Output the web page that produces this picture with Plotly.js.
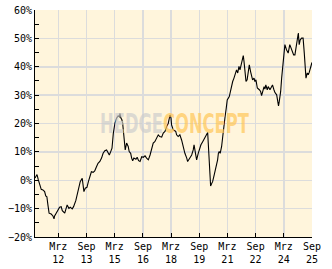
<!DOCTYPE html>
<html>
<head>
<meta charset="utf-8">
<script src="https://cdn.plot.ly/plotly-3.0.1.min.js"></script>
<style>html,body{margin:0;padding:0;background:#fff;}#chart{width:332px;height:269px;}</style>
</head>
<body>
<div id="chart"></div>
<script>
const dates = [
"2010-12-04","2011-01-12","2011-02-07","2011-03-15","2011-04-04","2011-05-07","2011-06-09","2011-07-01","2011-07-23","2011-08-12",
"2011-09-04","2011-10-15","2011-11-18","2011-12-09","2011-12-20","2012-01-20","2012-02-23","2012-03-26","2012-04-26","2012-05-18",
"2012-07-04","2012-08-04","2012-08-20","2012-09-23","2012-10-20","2012-11-26","2012-12-23","2013-02-04","2013-02-26","2013-04-07",
"2013-05-01","2013-06-09","2013-06-23","2013-07-12","2013-08-07","2013-09-09","2013-10-07","2013-11-04","2013-12-04","2014-01-07",
"2014-02-07","2014-03-09","2014-04-12","2014-05-18","2014-06-20","2014-07-20","2014-08-23","2014-09-26","2014-10-26","2014-11-18",
"2014-12-15","2015-01-09","2015-02-04","2015-03-07","2015-04-09","2015-05-09","2015-06-01","2015-06-12","2015-07-01","2015-07-20",
"2015-08-04","2015-08-15","2015-09-04","2015-09-23","2015-10-20","2015-11-20","2015-12-09","2016-01-07","2016-01-26","2016-02-15",
"2016-03-09","2016-04-18","2016-05-12","2016-06-09","2016-07-07","2016-08-09","2016-09-09","2016-10-12","2016-11-12","2016-12-15",
"2017-01-18","2017-02-18","2017-03-20","2017-04-20","2017-05-23","2017-06-26","2017-07-26","2017-09-01","2017-10-01","2017-11-04",
"2017-12-07","2018-01-07","2018-02-09","2018-03-01","2018-03-12","2018-04-12","2018-06-01","2018-06-18","2018-07-18","2018-08-20",
"2018-09-23","2018-10-23","2018-11-26","2019-01-01","2019-01-18","2019-02-15","2019-03-04","2019-04-07","2019-05-07","2019-05-23",
"2019-06-20","2019-07-12","2019-08-12","2019-09-01","2019-10-04","2019-11-07","2019-12-07","2020-01-04","2020-02-12","2020-02-23",
"2020-03-12","2020-03-26","2020-04-09","2020-05-01","2020-05-18","2020-06-18","2020-07-15","2020-08-04","2020-08-23","2020-09-07",
"2020-09-23","2020-10-12","2020-11-09","2020-12-01","2020-12-18","2021-01-15","2021-02-07","2021-02-26","2021-04-07","2021-05-04",
"2021-06-12","2021-07-07","2021-08-15","2021-08-26","2021-09-18","2021-10-12","2021-11-01","2021-11-20","2021-12-09","2022-01-04",
"2022-01-18","2022-02-07","2022-02-26","2022-03-20","2022-04-09","2022-05-01","2022-05-26","2022-06-15","2022-07-04","2022-08-01",
"2022-08-18","2022-09-07","2022-10-04","2022-11-12","2022-12-07","2022-12-26","2023-01-15","2023-02-12","2023-03-01","2023-03-18",
"2023-04-15","2023-05-04","2023-06-07","2023-07-09","2023-07-26","2023-08-23","2023-09-12","2023-10-15","2023-11-04","2023-11-20",
"2023-12-04","2024-01-01","2024-01-20","2024-02-09","2024-03-04","2024-03-23","2024-04-23","2024-05-26","2024-06-26","2024-07-18",
"2024-08-07","2024-09-09","2024-10-04","2024-11-07","2024-11-26","2024-12-09","2024-12-26","2025-01-15","2025-02-12","2025-03-12",
"2025-04-04","2025-04-20","2025-05-07","2025-06-01","2025-06-20","2025-07-09","2025-08-07","2025-08-31"
];
const performance = [
0.8,2.0,0.1,-1.7,-3.2,-3.4,-4.0,-5.5,-5.8,-8.7,
-11.6,-11.9,-12.6,-13.6,-12.6,-11.6,-10.5,-9.5,-9.3,-10.7,
-11.6,-9.9,-8.7,-9.9,-9.5,-10.1,-9.3,-7.2,-5.2,-2.8,
-0.5,0.7,-1.1,-4.0,-2.8,-2.5,-0.5,1.3,3.0,2.8,
3.3,4.6,6.0,6.6,7.8,9.5,10.4,10.7,9.5,8.9,
10.1,11.3,16.6,20.1,21.9,22.7,22.4,23.6,21.9,21.3,
20.1,17.8,14.2,10.7,13.1,11.9,10.1,9.5,7.8,6.9,
7.8,7.4,8.1,6.9,6.6,8.3,8.1,8.6,7.8,7.2,
8.9,10.7,13.1,13.6,14.8,16.0,15.4,15.2,16.6,17.2,
18.9,20.1,23.0,21.9,19.5,17.8,17.2,16.0,15.4,16.0,
14.2,11.9,9.5,7.8,6.6,7.4,7.8,8.9,10.7,12.5,
9.5,7.2,9.5,10.9,12.5,13.6,14.5,15.6,16.8,13.1,
7.2,1.3,-2.0,-1.1,-0.5,1.9,4.2,4.8,7.2,9.5,
10.1,9.5,11.9,15.4,18.9,22.4,25.4,28.3,29.5,31.9,
34.8,36.0,37.8,38.9,37.8,40.1,38.9,40.7,41.9,43.9,
41.9,37.8,34.8,35.4,38.3,40.7,38.3,36.6,35.4,36.0,
34.8,35.4,32.5,31.9,31.3,29.8,31.3,33.0,32.1,33.6,
31.9,33.0,31.9,33.0,33.6,31.9,30.9,30.1,28.3,26.2,
27.7,31.3,36.0,40.1,46.0,47.8,46.0,44.8,47.8,46.6,
45.4,44.2,44.2,47.8,49.5,51.9,47.8,49.5,50.1,50.1,
44.8,41.3,36.0,37.8,37.2,38.0,40.1,41.5
];
const tickDates = ["2012-03-01","2013-09-01","2015-03-01","2016-09-01","2018-03-01","2019-09-01","2021-03-01","2022-09-01","2024-03-01","2025-09-01"];
const tickLabels = ["Mrz<br>12","Sep<br>13","Mrz<br>15","Sep<br>16","Mrz<br>18","Sep<br>19","Mrz<br>21","Sep<br>22","Mrz<br>24","Sep<br>25"];

const tickFont = {family: "DejaVu Sans Mono, monospace", size: 10, color: "#000"};

Plotly.newPlot("chart", [{
  x: dates, y: performance, type: "scatter", mode: "lines",
  line: {color: "#000", width: 1.1}, hoverinfo: "skip"
}], {
  width: 332, height: 269,
  margin: {l: 35, r: 20, t: 10, b: 32, pad: 0},
  paper_bgcolor: "#ffffff",
  plot_bgcolor: "#fff5dc",
  showlegend: false,
  xaxis: {
    type: "date", range: ["2010-12-04","2025-09-01"],
    tickmode: "array", tickvals: tickDates, ticktext: tickLabels,
    showgrid: true, gridcolor: "#dcdcdc", gridwidth: 1.5,
    showline: true, linecolor: "#000", linewidth: 1,
    ticks: "inside", ticklen: 4, tickcolor: "#000",
    tickfont: tickFont, zeroline: false, fixedrange: true
  },
  yaxis: {
    range: [-20, 60], dtick: 10, tick0: 0, ticksuffix: "%",
    showgrid: true, gridcolor: "#dcdcdc", gridwidth: 1.5,
    showline: true, linecolor: "#000", linewidth: 1,
    ticks: "inside", ticklen: 4, tickcolor: "#000",
    minor: {dtick: 5, ticks: "inside", ticklen: 4, tickcolor: "#000", showgrid: false},
    tickfont: tickFont, zeroline: false, fixedrange: true
  },
  annotations: [{
    xref: "paper", yref: "paper", x: 0.502, y: 0.5, xanchor: "center", yanchor: "middle",
    showarrow: false,
    text: '<b><span style="fill:rgba(205,205,205,0.7)">HEDGE</span><span style="fill:rgba(255,198,85,0.7)">CONCEPT</span></b>',
    font: {family: "DejaVu Sans, sans-serif", size: 26}
  }]
}, {staticPlot: true, displayModeBar: false}).then(function (gd) {
  // squeeze the watermark text horizontally to the condensed look of the original
  const t = gd.querySelector("text.annotation-text");
  if (!t) return;
  const bb = t.getBBox();
  const target = 149;
  const s = target / bb.width;
  const cx = bb.x + bb.width / 2;
  const prev = t.getAttribute("transform") || "";
  t.setAttribute("transform", prev + " translate(" + cx + ",0) scale(" + s + ",1) translate(" + (-cx) + ",0)");
});
</script>
</body>
</html>
